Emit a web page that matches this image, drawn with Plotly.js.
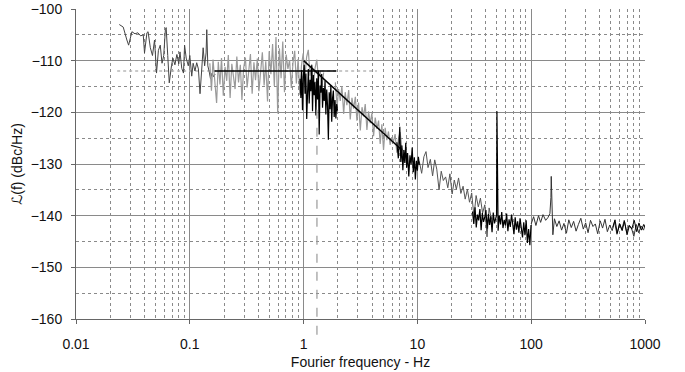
<!DOCTYPE html>
<html>
<head>
<meta charset="utf-8">
<script src="https://cdn.plot.ly/plotly-3.0.1.min.js"></script>
<style>html,body{margin:0;padding:0;background:#fff;}#chart{width:685px;height:372px;}</style>
</head>
<body>
<div id="chart"></div>
<script>
// ---- Data ----
// Segment 1: low-frequency measurement (dark grey)
var seg1F = [0.024,0.026,0.028,0.029,0.031,0.033,0.035,0.037,0.039,0.040,0.042,0.043,0.045,0.047,0.049,0.051,0.053,0.055,0.057,0.059,0.061,0.062,0.064,0.066,0.069,0.071,0.074,0.077,0.080,0.082,0.085,0.088,0.090,0.093,0.097,0.100,0.104,0.107,0.111,0.115,0.119,0.123,0.127,0.131,0.135,0.139,0.141,0.144,0.148,0.152,0.157,0.162,0.167];
var seg1Db = [-103,-103.5,-106,-107,-104.4,-104.8,-104.6,-105.2,-105,-108.5,-104.6,-104.4,-107.5,-109,-106,-112.4,-108,-107,-110.5,-109,-104,-103.6,-109,-114.3,-111,-109.5,-110.8,-108.8,-110.6,-108.3,-111.5,-112.4,-107,-109.5,-111,-109,-113,-110.5,-112,-110.4,-111.6,-116.4,-112,-107.5,-111,-108.5,-104,-111,-112.1,-113.5,-112.4,-113.1,-112.6];

// Segment 2: 0.15 - 1.5 Hz (grey)
var seg2F = [0.150,0.155,0.160,0.166,0.172,0.178,0.184,0.190,0.197,0.204,0.211,0.218,0.226,0.234,0.242,0.250,0.259,0.268,0.278,0.287,0.297,0.308,0.319,0.330,0.341,0.353,0.366,0.378,0.392,0.405,0.420,0.434,0.450,0.465,0.482,0.498,0.516,0.534,0.553,0.572,0.592,0.613,0.634,0.656,0.679,0.703,0.728,0.753,0.780,0.807,0.835,0.864,0.895,0.926,0.958,0.992,1.027,1.063,1.100,1.138,1.178,1.220,1.262,1.306,1.352,1.400,1.449,1.500];
var seg2Db = [-110.5,-115.8,-109.8,-113.5,-118.2,-110.2,-114.6,-109.5,-116.8,-111.2,-113.9,-108.9,-117.2,-110.6,-112.8,-115.5,-109.2,-114.2,-110.8,-117.6,-111.5,-109.4,-115.2,-112.2,-108.7,-116.4,-110.3,-113.8,-109.6,-115.9,-111.7,-108.4,-114.8,-110.1,-117.9,-108.2,-112.6,-106.8,-114.9,-105.4,-120.2,-107.6,-113.4,-106.3,-116.1,-108.8,-111.6,-109.9,-115.3,-110.4,-108.1,-114.4,-109.7,-116.6,-110.9,-108.6,-113.2,-109.3,-107.9,-112.9,-110.7,-114.7,-111.4,-109.8,-113.6,-111.9,-115.1,-112.3];

// Segment 3: 0.93 - 2 Hz (black)
var seg3F = [0.930,0.946,0.962,0.978,0.995,1.012,1.029,1.047,1.065,1.083,1.101,1.120,1.139,1.158,1.178,1.198,1.218,1.239,1.260,1.282,1.304,1.326,1.348,1.371,1.395,1.418,1.442,1.467,1.492,1.517,1.543,1.569,1.596,1.623,1.651,1.679,1.707,1.736,1.766,1.796,1.826,1.857,1.889,1.921,1.954,1.987];
var seg3Db = [-113.5,-117.2,-111.8,-119.6,-113.1,-110.8,-116.4,-112.5,-121.3,-114.2,-111.6,-118.3,-113.7,-115.9,-110.9,-119.8,-112.8,-116.7,-114.1,-120.6,-113.4,-117.5,-111.9,-124.3,-114.8,-116.2,-112.6,-119.1,-115.3,-117.8,-113.9,-120.4,-115.6,-118.7,-125.3,-116.1,-119.4,-114.7,-121.8,-117.3,-115.8,-120.9,-117.6,-121.2,-118.4,-119.7];

// Segment 4: 1.9 - 7.5 Hz (grey)
var seg4F = [1.90,1.97,2.03,2.10,2.17,2.25,2.32,2.40,2.49,2.57,2.66,2.75,2.85,2.94,3.04,3.15,3.26,3.37,3.48,3.60,3.72,3.85,3.98,4.12,4.26,4.41,4.56,4.71,4.87,5.04,5.21,5.39,5.57,5.76,5.96,6.16,6.37,6.59,6.82,7.05,7.29,7.54];
var seg4Db = [-114.2,-118.9,-115.5,-117.8,-114.9,-120.3,-116.1,-118.6,-115.7,-121.4,-117.2,-119.3,-117.0,-121.6,-118.1,-123.5,-119.0,-120.8,-118.4,-123.4,-119.8,-122.1,-120.2,-124.6,-121.0,-123.2,-121.6,-126.1,-122.3,-127.3,-123.0,-125.4,-123.7,-126.3,-124.8,-125.7,-124.2,-127.8,-125.1,-123.8,-126.9,-127.6];

// Segment 5: 6.6 - 10.4 Hz (black)
var seg5F = [6.6,6.8,7.0,7.15,7.3,7.45,7.6,7.75,7.9,8.05,8.2,8.4,8.6,8.8,9.0,9.2,9.4,9.6,9.8,10.0,10.2,10.4];
var seg5Db = [-125.8,-128.9,-122.8,-129.6,-126.4,-131.2,-127.3,-129.8,-125.9,-130.7,-127.9,-132.4,-128.3,-130.1,-126.8,-131.6,-128.7,-133.0,-129.4,-131.3,-128.6,-130.2];

// Segment 6: 10 - 45 Hz (dark grey)
var seg6F = [10.4,10.9,11.4,11.9,12.4,13.0,13.6,14.2,14.8,15.5,16.2,16.9,17.7,18.5,19.3,20.2,21.1,22.0,23.0,24.1,25.2,26.3,27.5,28.7,30.0,31.4,32.8,34.3,35.8,37.4,39.1,40.9,42.7,44.7];
var seg6Db = [-129.5,-131.8,-128.6,-127.6,-130.7,-129.1,-132.3,-129.2,-131.0,-135.0,-131.4,-133.2,-132.5,-134.6,-131.9,-135.8,-133.1,-134.9,-132.7,-135.7,-134.3,-136.8,-134.9,-137.4,-135.6,-140.2,-136.1,-138.3,-136.6,-139.5,-137.9,-144.1,-138.5,-140.7];

// Segment 7: 30 - 100 Hz (black, 50 Hz line)
var seg7F = [30.5,31.3,32.1,32.9,33.7,34.5,35.4,36.3,37.2,38.1,39.1,40.0,41.0,42.1,43.1,44.2,45.3,46.4,47.6,48.8,49.6,50.0,50.4,51.2,52.4,53.8,55.1,56.5,57.9,59.4,60.8,62.4,63.9,65.5,67.2,68.8,70.6,72.3,74.1,76.0,77.9,79.8,81.8,83.9,86.0,88.1,90.3,92.6,94.9,97.3,99.7];
var seg7Db = [-139.2,-141.6,-138.4,-142.3,-139.8,-140.9,-138.7,-142.8,-139.5,-141.2,-140.3,-138.9,-142.5,-139.7,-141.8,-140.1,-143.2,-139.4,-141.5,-140.6,-139.9,-119.8,-140.4,-142.9,-140.0,-141.7,-139.3,-142.4,-140.8,-141.9,-139.6,-143.0,-140.7,-142.2,-139.8,-141.4,-143.6,-140.3,-142.7,-141.1,-143.3,-140.5,-142.0,-144.2,-141.3,-143.8,-140.9,-145.3,-142.6,-145.7,-141.8];

// Segment 8: 100 - 1000 Hz (dark grey, 150 Hz line)
var seg8F = [100,105,110,116,121,127,134,140,146,149,150,152,155,160,168,176,185,194,204,214,225,236,248,260,273,287,301,316,332,349,366,384,404,424,445,467,490,515,540,567,596,625,657,690,724,760,798,838,880,924,970,1000];
var seg8Db = [-141.6,-140.2,-141.9,-140.0,-141.3,-139.8,-140.9,-140.4,-139.6,-136.5,-132.4,-138.2,-143.7,-140.6,-142.1,-141.0,-142.8,-141.5,-143.4,-140.8,-142.3,-141.1,-143.0,-141.7,-140.5,-142.6,-141.4,-143.3,-140.9,-142.1,-141.6,-143.5,-141.0,-142.4,-140.7,-143.1,-141.8,-142.9,-141.2,-143.6,-141.5,-142.7,-140.9,-143.2,-141.9,-142.4,-144.0,-141.7,-143.3,-142.0,-142.8,-141.9];

// Segment 9: 500 - 1000 Hz (black, dense end)
var seg9F = [520,545,570,600,630,660,695,730,765,805,845,885,930,975,1000];
var seg9Db = [-142.3,-140.8,-143.4,-141.6,-142.9,-141.1,-143.7,-141.9,-142.6,-140.9,-143.1,-141.4,-142.8,-141.7,-142.2];

// Model / guide lines
var refF = [0.023, 4.4];      var refDb = [-112, -112];     // dotted grey level
var flatF = [0.165, 1.94];    var flatDb = [-112, -112];    // black plateau
var slopeF = [1.0, 7.3];      var slopeDb = [-110, -127.3]; // black -20 dB/dec slope
var cornerF = [1.31];         var cornerTopDb = [-119.5];   // dashed corner frequency

// Axis ticks
var xTickVals = [0.01, 0.1, 1, 10, 100, 1000];
var xTickText = ['0.01', '0.1', '1', '10', '100', '1000'];
var yTickVals = [-160, -150, -140, -130, -120, -110, -100];
var yRange = [-160, -100];

function tr(x, y, color, width, dash) {
  return {x: x, y: y, type: 'scatter', mode: 'lines',
          line: {color: color, width: width, dash: dash || 'solid'},
          hoverinfo: 'skip', showlegend: false};
}

var data = [
  tr(refF, refDb, '#b8b8b8', 1.5, 'dot'),
  tr(seg1F, seg1Db, '#444444', 1),
  tr(seg2F, seg2Db, '#9a9a9a', 1.2),
  tr(seg4F, seg4Db, '#9a9a9a', 1.2),
  tr(seg6F, seg6Db, '#555555', 1),
  tr(seg8F, seg8Db, '#333333', 1),
  tr(seg9F, seg9Db, '#000000', 1),
  tr(seg3F, seg3Db, '#000000', 1.2),
  tr(seg5F, seg5Db, '#000000', 1.2),
  tr(seg7F, seg7Db, '#000000', 1.2),
  tr(flatF, flatDb, '#000000', 1.5),
  tr(slopeF, slopeDb, '#000000', 1.5)
];

var font = {family: 'Liberation Sans, Arial, sans-serif', size: 14, color: '#111'};

var cornerTopPaper = (cornerTopDb[0] - yRange[0]) / (yRange[1] - yRange[0]);

var layout = {
  width: 685, height: 372,
  margin: {l: 76, r: 40, t: 9, b: 53, pad: 0},
  paper_bgcolor: '#fff', plot_bgcolor: '#fff',
  font: font,
  showlegend: false,
  xaxis: {
    type: 'log', range: [-2, 3],
    tickvals: xTickVals, ticktext: xTickText,
    ticks: 'outside', ticklen: 4, tickcolor: '#666',
    showline: true, linecolor: '#666', linewidth: 1,
    showgrid: true, gridcolor: '#8a8a8a', gridwidth: 1,
    minor: {dtick: 'D1', showgrid: true, gridcolor: '#8a8a8a', griddash: 'dot', gridwidth: 1, ticks: ''},
    zeroline: false,
    ticklabelstandoff: 8,
    tickfont: font,
    title: {text: 'Fourier frequency - Hz', font: font, standoff: 6}
  },
  yaxis: {
    range: yRange,
    tickvals: yTickVals,
    ticks: 'outside', ticklen: 4, tickcolor: '#666',
    showline: true, linecolor: '#666', linewidth: 1,
    showgrid: true, gridcolor: '#8a8a8a', gridwidth: 1,
    minor: {dtick: 5, showgrid: true, gridcolor: '#8a8a8a', griddash: 'dot', gridwidth: 1, ticks: ''},
    zeroline: false,
    ticklabelstandoff: 6,
    tickfont: font,
    title: {text: 'ℒ(f) (dBc/Hz)', font: {family: 'Liberation Sans, DejaVu Sans, Arial, sans-serif', size: 14, color: '#111'}, standoff: 4}
  },
  shapes: [{
    type: 'line', xref: 'x', yref: 'paper',
    x0: cornerF[0], x1: cornerF[0], y0: cornerTopPaper, y1: -0.077,
    line: {color: '#999', width: 1.2, dash: 'dash'}
  }]
};

Plotly.newPlot('chart', data, layout, {displayModeBar: false, staticPlot: true});
</script>
</body>
</html>
